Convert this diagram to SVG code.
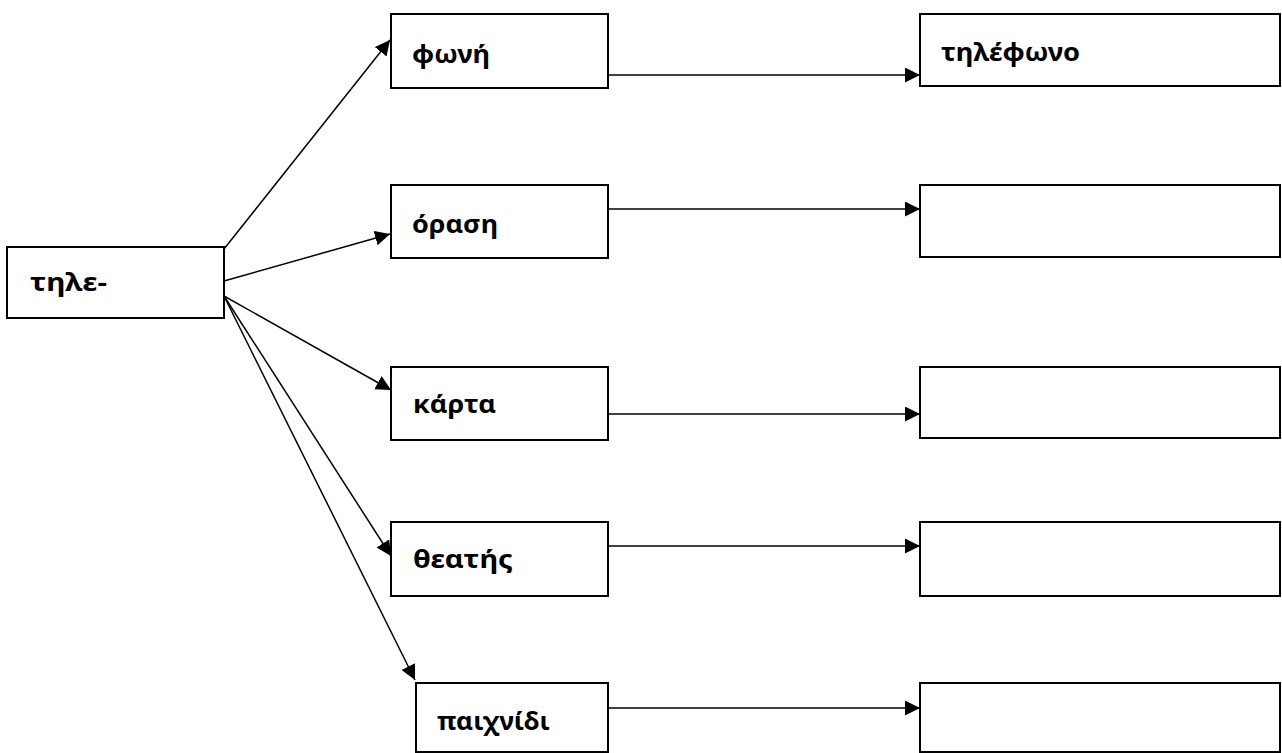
<svg xmlns="http://www.w3.org/2000/svg" width="1282" height="753" viewBox="0 0 1282 753">
<defs>
<marker id="ah" markerUnits="userSpaceOnUse" markerWidth="16" markerHeight="16" refX="15" refY="7.5" orient="auto">
<path d="M0,0 L15,7.5 L0,15 z" fill="#000"/>
</marker>
<style>
.box{fill:#fff;stroke:#000;stroke-width:2}
.lbl{font-family:"Noto Sans","Liberation Sans",sans-serif;font-weight:bold;font-size:25px;fill:#000}
.con{stroke:#000;stroke-width:1.5;fill:none;marker-end:url(#ah)}
</style>
</defs>
<rect width="1282" height="753" fill="#fff"/>
<g id="connectors">
<line class="con" x1="224" y1="249" x2="390" y2="40"/>
<line class="con" x1="224" y1="281" x2="390" y2="234"/>
<line class="con" x1="224" y1="296" x2="391" y2="390"/>
<line class="con" x1="224" y1="296" x2="391" y2="556"/>
<line class="con" x1="224" y1="296" x2="415" y2="680"/>
<line class="con" x1="608" y1="75" x2="920" y2="75"/>
<line class="con" x1="608" y1="209" x2="920" y2="209"/>
<line class="con" x1="608" y1="414" x2="920" y2="414"/>
<line class="con" x1="608" y1="546" x2="920" y2="546"/>
<line class="con" x1="608" y1="708" x2="920" y2="708"/>
</g>
<g id="node-tile">
<rect class="box" x="7" y="247" width="217" height="71"/>
<text class="lbl" x="30" y="291" textLength="77" lengthAdjust="spacingAndGlyphs">τηλε-</text>
</g>
<g id="node-foni">
<rect class="box" x="391" y="14" width="217" height="74"/>
<text class="lbl" x="412" y="63" textLength="78" lengthAdjust="spacingAndGlyphs">φωνή</text>
</g>
<g id="node-tilefono">
<rect class="box" x="920" y="14" width="360" height="72"/>
<text class="lbl" x="941" y="61" textLength="139" lengthAdjust="spacingAndGlyphs">τηλέφωνο</text>
</g>
<g id="node-orasi">
<rect class="box" x="391" y="185" width="217" height="73"/>
<text class="lbl" x="412" y="233" textLength="86" lengthAdjust="spacingAndGlyphs">όραση</text>
</g>
<g id="node-r2">
<rect class="box" x="920" y="185" width="360" height="72"/>
</g>
<g id="node-karta">
<rect class="box" x="391" y="367" width="217" height="73"/>
<text class="lbl" x="413" y="413" textLength="83" lengthAdjust="spacingAndGlyphs">κάρτα</text>
</g>
<g id="node-r3">
<rect class="box" x="920" y="367" width="360" height="71"/>
</g>
<g id="node-theatis">
<rect class="box" x="391" y="522" width="217" height="74"/>
<text class="lbl" x="413" y="568" textLength="100" lengthAdjust="spacingAndGlyphs">θεατής</text>
</g>
<g id="node-r4">
<rect class="box" x="920" y="522" width="360" height="74"/>
</g>
<g id="node-paixnidi">
<rect class="box" x="416" y="683" width="192" height="69"/>
<text class="lbl" x="437" y="730" textLength="113" lengthAdjust="spacingAndGlyphs">παιχνίδι</text>
</g>
<g id="node-r5">
<rect class="box" x="920" y="683" width="360" height="69"/>
</g>
</svg>
